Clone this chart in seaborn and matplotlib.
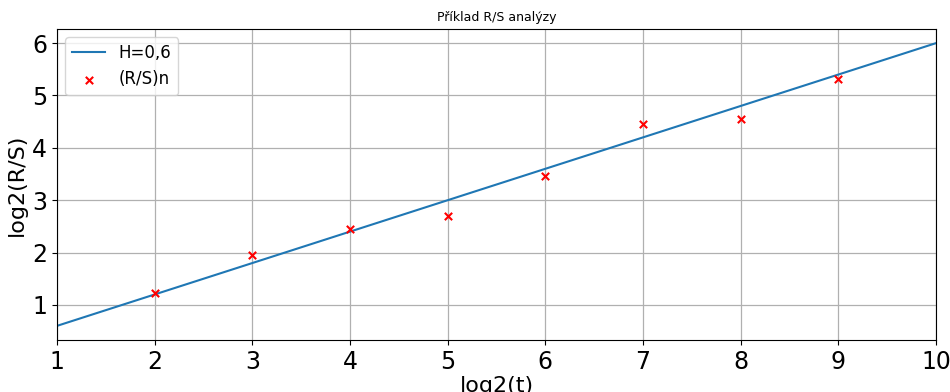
import matplotlib
matplotlib.use("Agg")
import matplotlib.pyplot as plt
import seaborn as sns
import numpy as np

# Data
line_x = [1, 10]
line_y = [0.6, 6.0]
point_x = [2, 3, 4, 5, 6, 7, 8, 9]
point_y = [1.23, 1.95, 2.445, 2.705, 3.46, 4.465, 4.56, 5.31]

fig = plt.figure(figsize=(9.5, 3.92), dpi=100)
ax = fig.add_axes([57/950, 1-340/392, (936-57)/950, (340-29)/392])

sns.lineplot(x=line_x, y=line_y, ax=ax, color="#1f77b4", label="H=0,6", linewidth=1.5)
sns.scatterplot(x=point_x, y=point_y, ax=ax, color="red", marker="x", s=28,
                linewidth=1.5, label="(R/S)n", zorder=3)

ax.set_xlim(1, 10)
ax.set_ylim(0.33, 6.27)
ax.set_xticks(range(1, 11))
ax.set_yticks(range(1, 7))
ax.tick_params(labelsize=17)
ax.grid(True, color="#b0b0b0", linewidth=0.9)
ax.set_axisbelow(True)
ax.set_xlabel("log2(t)", fontsize=16, labelpad=2)
ax.set_ylabel("log2(R/S)", fontsize=16)
ax.set_title("Příklad R/S analýzy", fontsize=9)
ax.legend(loc="upper left", fontsize=12)

fig.savefig("out.png", dpi=100)
